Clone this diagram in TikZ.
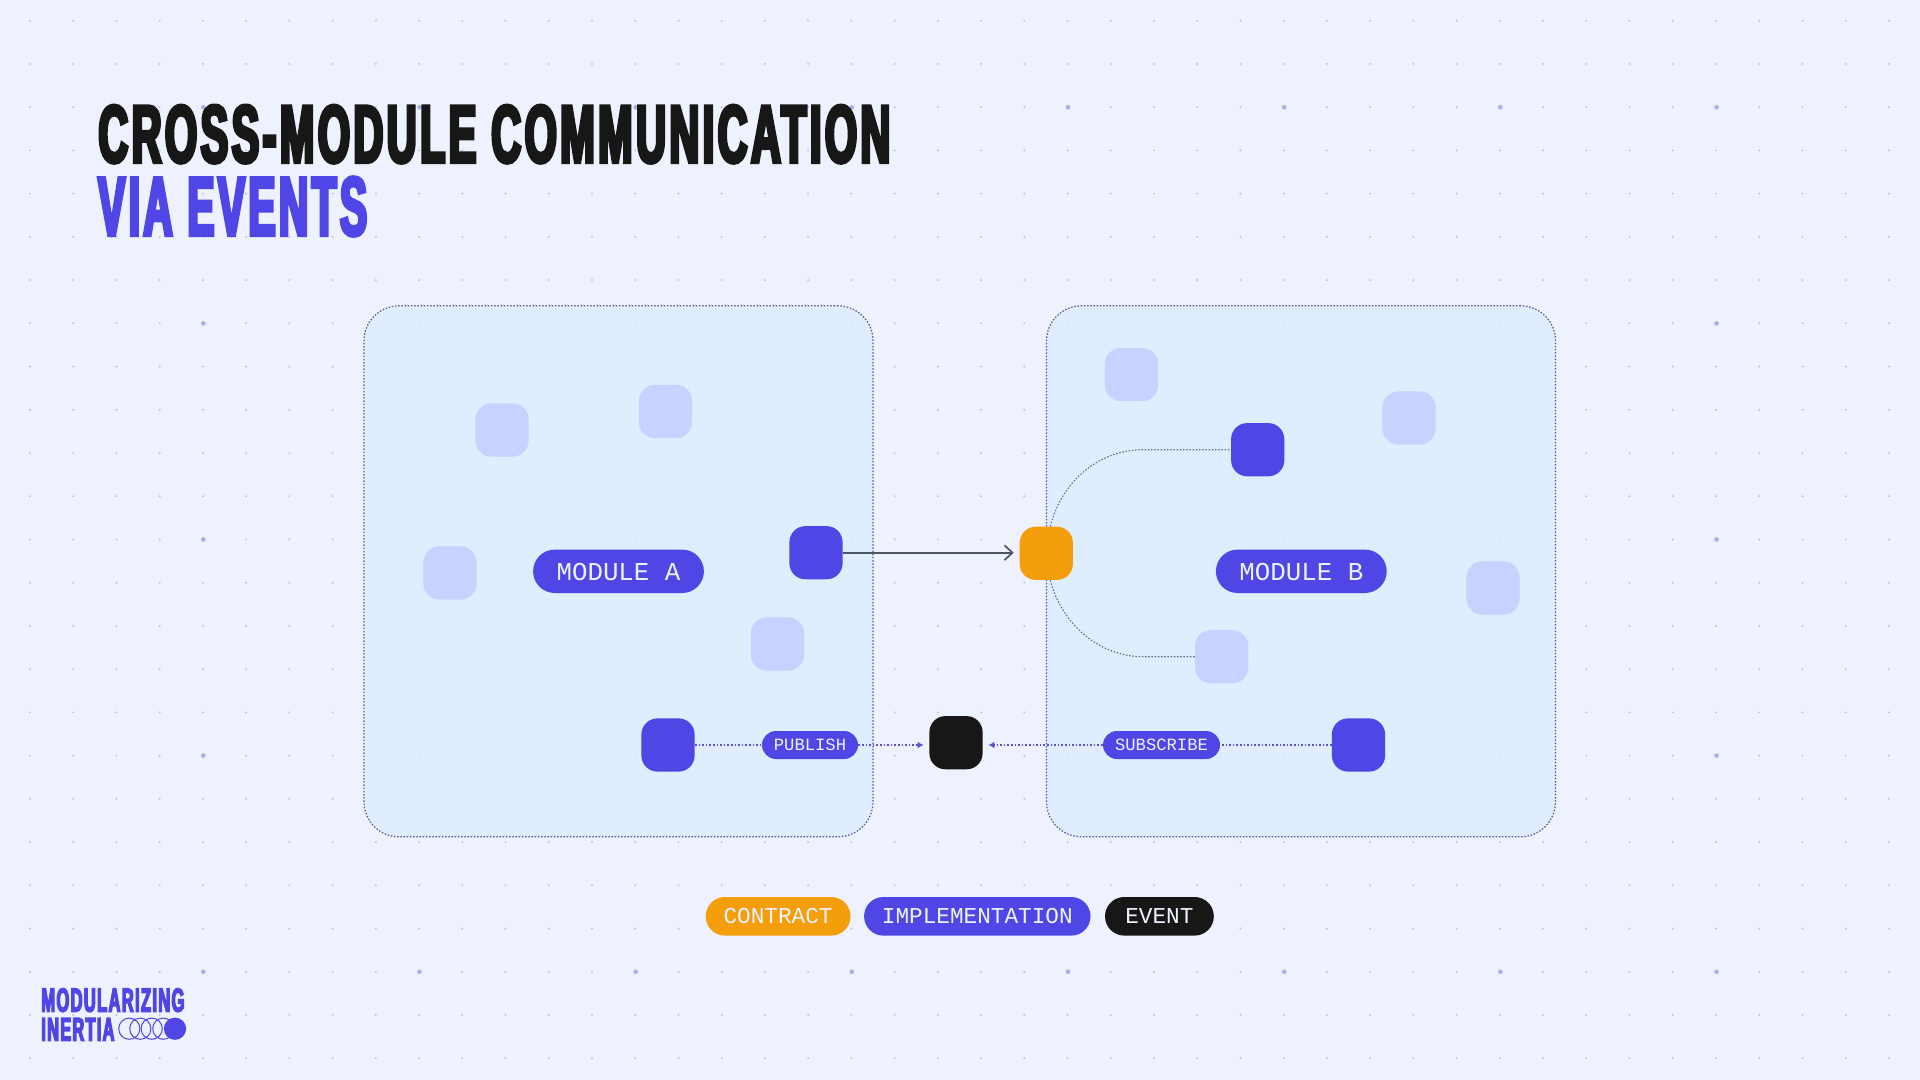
\documentclass[tikz,border=0pt]{standalone}
\usepackage{fontspec}
\setmonofont{Liberation Mono}
\newfontfamily\headfont[FakeStretch=0.6,FakeBold=4.6,LetterSpace=5]{Liberation Sans Bold}
\usetikzlibrary{arrows.meta,calc}
\definecolor{bgc}{HTML}{EEF2FF}
\definecolor{panelc}{HTML}{DFEDFE}
\definecolor{indigoc}{HTML}{4F46E5}
\definecolor{orangec}{HTML}{F59E0B}
\definecolor{inkc}{HTML}{171717}
\definecolor{lightc}{HTML}{C7D2FE}
\definecolor{arrowc}{HTML}{4B5563}
\definecolor{borderc}{HTML}{55559A}
\definecolor{curvec}{HTML}{5F6B8E}
\definecolor{griddotc}{HTML}{BCC2D8}
\definecolor{bigdotc}{HTML}{A8AEE6}
\definecolor{labelc}{HTML}{EEF2FF}
\definecolor{linkc}{HTML}{5B52CC}
\tikzset{
  x=0.5pt,y=-0.5pt,
  panelbox/.style={rectangle,draw=borderc,line width=0.6pt,dash pattern=on 0.75pt off 0.85pt,fill=panelc,fill opacity=0.96,rounded corners=17.5pt,minimum width=254.5pt,minimum height=265.5pt,inner sep=0pt},
  sq/.style={rectangle,rounded corners=8pt,minimum width=26.6pt,minimum height=26.6pt,inner sep=0pt},
  sqlight/.style={sq,fill=lightc},
  sqdark/.style={sq,fill=indigoc},
  sqorange/.style={sq,fill=orangec},
  sqblack/.style={sq,fill=inkc},
  pill/.style={rectangle,inner sep=0pt,text=labelc,font=\ttfamily},
  modpill/.style={pill,fill=indigoc,rounded corners=10.8pt,minimum width=85.4pt,minimum height=21.7pt,text height=9.4pt,text depth=0pt,font=\fontsize{12.9}{14}\ttfamily},
  linkpill/.style={pill,fill=indigoc,rounded corners=7pt,minimum height=14pt,font=\fontsize{8.6}{10}\ttfamily},
  legpill/.style={pill,rounded corners=9.6pt,minimum height=19.3pt,font=\fontsize{11.35}{13}\ttfamily},
  linkline/.style={draw=linkc,line width=0.55pt,dash pattern=on 0.8pt off 1pt},
  linkarrow/.style={linkline,-{Latex[length=3pt,width=3.4pt]}},
  curveline/.style={draw=curvec,line width=0.55pt,dash pattern=on 0.75pt off 0.85pt},
  mainarrow/.style={draw=arrowc,line width=0.85pt,-{Straight Barb[length=4pt,width=7.4pt,line width=0.85pt]}},
  headtext/.style={inner sep=0pt,anchor=north west},
  logoring/.style={circle,draw=indigoc,line width=0.5pt,minimum size=10.6pt,inner sep=0pt}
}
\begin{document}
\begin{tikzpicture}
\useasboundingbox (0,0) rectangle (1920,1080);
\fill[bgc] (0,0) rectangle (1920,1080);
% dot grid
\foreach \i in {0,...,43}{\foreach \j in {0,...,24}{
  \fill[griddotc] ({30+43.23*\i},{20.7+43.23*\j}) circle (0.55pt);
}}
\foreach \i in {0,...,7}{\foreach \j in {0,...,4}{
  \fill[bigdotc] ({203.3+216.18*\i},{107.3+216.1*\j}) circle (1.15pt);
}}
% panels
\node[panelbox] (panelA) at (618.5,571.3) {};
\node[panelbox] (panelB) at (1301,571.3) {};
% squares
\node[sqlight] (a1) at (502,430) {};
\node[sqlight] (a2) at (665.5,411.5) {};
\node[sqlight] (a3) at (450,573) {};
\node[sqlight] (a4) at (777.5,644) {};
\node[sqdark] (aout) at (816,552.7) {};
\node[sqdark] (apub) at (668,745) {};
\node[sqorange] (contract) at (1046.3,553.3) {};
\node[sqblack] (event) at (956,742.7) {};
\node[sqlight] (b1) at (1131.5,374.5) {};
\node[sqlight] (b2) at (1409,418) {};
\node[sqlight] (b3) at (1493,588) {};
\node[sqdark] (btop) at (1257.7,449.7) {};
\node[sqlight] (blow) at (1221.7,656.7) {};
\node[sqdark] (bsub) at (1358.5,745) {};
% module pills
\node[modpill] (modA) at (618.5,571.3) {MODULE A};
\node[modpill] (modB) at (1301.3,571.3) {MODULE B};
% link pills
\node[linkpill,minimum width=48pt] (publish) at (810,745) {PUBLISH};
\node[linkpill,minimum width=58.5pt] (subscribe) at (1161.5,745) {SUBSCRIBE};
% connectors
\draw[mainarrow,shorten >=2.8pt] (aout.east) -- (aout.east -| contract.west);
\draw[linkline] (apub.east) -- (publish.west);
\draw[linkarrow,shorten >=2.7pt] (publish.east) -- (event.west |- publish.east);
\draw[linkline] (bsub.west) -- (subscribe.east);
\draw[linkarrow,shorten >=2.7pt] (subscribe.west) -- (event.east |- subscribe.west);
\coordinate (ctop) at (1143,449.7);
\coordinate (clow) at (1143,656.7);
\draw[curveline] ([xshift=2pt]contract.north) .. controls (1062,480) and (1100,449.7) .. (ctop) -- (btop.west);
\draw[curveline] ([xshift=2pt]contract.south) .. controls (1062,625) and (1100,656.7) .. (clow) -- (blow.west);
% legend
\node[legpill,fill=orangec,minimum width=72.4pt] (legC) at (778.1,916.3) {CONTRACT};
\node[legpill,fill=indigoc,minimum width=113.2pt] (legI) at (977.3,916.3) {IMPLEMENTATION};
\node[legpill,fill=inkc,minimum width=54.4pt] (legE) at (1159.4,916.3) {EVENT};
% title
\node[headtext,text=inkc] (title1) at (98,105) {\resizebox{396pt}{28.4pt}{\headfont CROSS-MODULE COMMUNICATION}};
\node[headtext,text=indigoc] (title2) at (97.7,176.7) {\resizebox{134.5pt}{29pt}{\headfont VIA EVENTS}};
% logo
\node[headtext,text=indigoc] (logo1) at (41,988) {\resizebox{71.5pt}{11.6pt}{\headfont MODULARIZING}};
\node[headtext,text=indigoc] (logo2) at (41,1017.7) {\resizebox{36.5pt}{11.2pt}{\headfont INERTIA}};
\node[logoring] (r1) at (129.3,1028.7) {};
\node[logoring] (r2) at (140.3,1028.7) {};
\node[logoring] (r3) at (151.7,1028.7) {};
\node[logoring] (r4) at (163.3,1028.7) {};
\node[logoring,fill=indigoc] (r5) at (175,1028.7) {};
\end{tikzpicture}
\end{document}
